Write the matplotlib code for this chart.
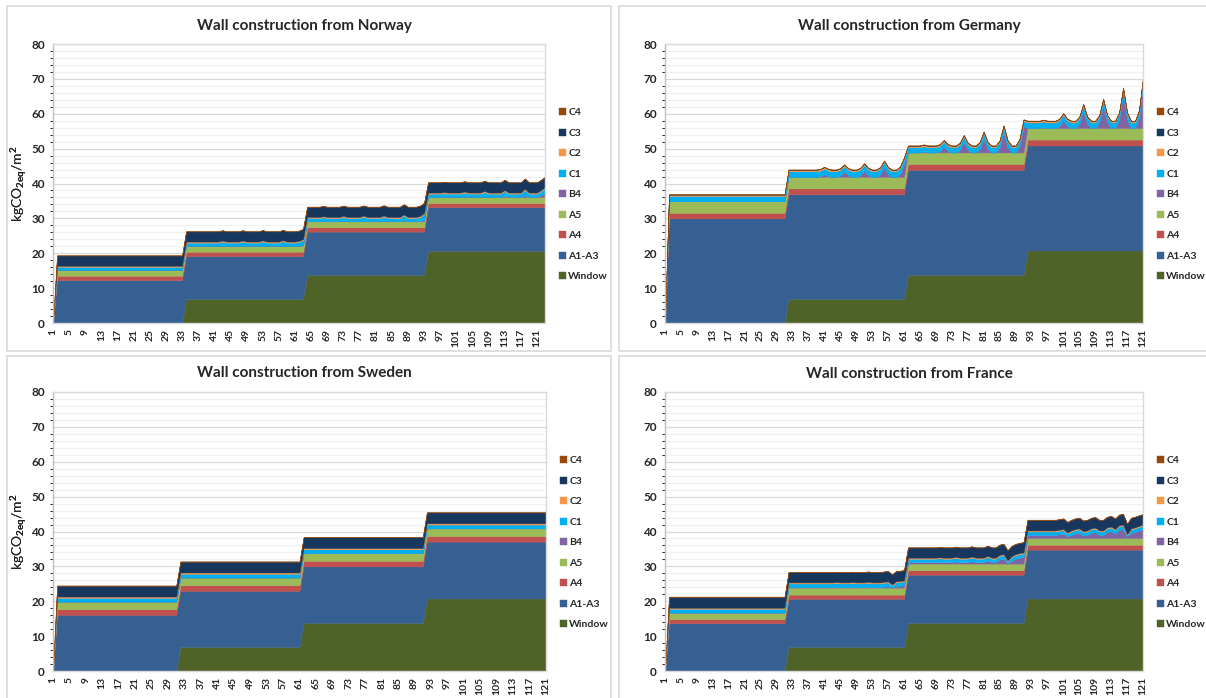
import numpy as np
import matplotlib.pyplot as plt
from matplotlib.patches import Rectangle
from matplotlib.ticker import MultipleLocator

plt.rcParams['font.family'] = ['Lato', 'DejaVu Sans']
plt.rcParams['font.weight'] = 'bold'
plt.rcParams['mathtext.fontset'] = 'custom'
plt.rcParams['mathtext.rm'] = 'Lato:bold'
plt.rcParams['mathtext.bf'] = 'Lato:bold'
plt.rcParams['mathtext.default'] = 'rm'

stages = ['Window', 'A1-A3', 'A4', 'A5', 'B4', 'C1', 'C2', 'C3', 'C4']
colors = ['#4F6228', '#376092', '#C0504D', '#9BBB59', '#8064A2',
          '#00B0F0', '#F79646', '#17375E', '#984807']

# --- Norway (123 years, first service life 32 years, then 30) ---
no_years = 123
no_starts = [2, 34, 64, 94]
no_window = [0, 6.9, 13.8, 20.7]
no_a1a3 = [12.3, 12.3, 12.4, 12.5]
no_a4 = [1.25, 1.25, 1.25, 1.2]
no_a5 = [1.7, 1.7, 1.7, 1.7]
no_b4 = [0, 0, 0.05, 0.1]
no_c1 = [0.85, 0.9, 0.9, 0.9]
no_c2 = [0.3, 0.3, 0.3, 0.3]
no_c3 = [2.95, 2.9, 2.9, 2.9]
no_c4 = [0.1, 0.1, 0.1, 0.1]
no_b4_extra = {63: 0.2, 88: 0.2, 93: 0.3, 113: 0.2, 118: 0.4, 122: 0.5, 123: 1.0}
no_c1_extra = {43: 0.3, 48: 0.3, 53: 0.35, 58: 0.4, 62: 0.2, 63: 0.5,
               68: 0.2, 73: 0.3, 78: 0.35, 83: 0.4, 88: 0.5, 92: 0.3, 93: 0.8,
               98: 0.1, 103: 0.3, 108: 0.45, 113: 0.5, 118: 0.7, 122: 0.2, 123: 0.6}

# --- Germany ---
de_years = 121
de_starts = [2, 32, 62, 92]
de_window = [0, 6.9, 13.8, 20.8]
de_a1a3 = [30.0, 30.0, 30.1, 30.1]
de_a4 = [1.6, 1.7, 1.7, 1.7]
de_a5 = [3.3, 3.3, 3.3, 3.3]
de_b4 = [0, 0, 0, 0]
de_c1 = [1.5, 1.6, 1.5, 1.6]
de_c2 = [0.4, 0.4, 0.4, 0.4]
de_c3 = [0.05, 0.05, 0.05, 0.05]
de_c4 = [0.1, 0.1, 0.1, 0.1]
de_b4_extra = {40: 0.2, 41: 0.8, 42: 0.2,
               45: 0.4, 46: 1.5, 47: 0.4,
               50: 0.5, 51: 1.8, 52: 0.5,
               55: 0.7, 56: 2.6, 57: 0.7,
               60: 0.9, 61: 3.5,
               66: 0.3,
               70: 0.4, 71: 1.6, 72: 0.4,
               75: 0.8, 76: 3.0, 77: 0.8,
               80: 1.0, 81: 4.0, 82: 1.0,
               85: 1.5, 86: 5.8, 87: 1.5,
               90: 1.9, 91: 7.5,
               96: 0.3,
               100: 0.6, 101: 2.2, 102: 0.6,
               105: 1.2, 106: 4.8, 107: 1.2,
               110: 1.6, 111: 6.3, 112: 1.6,
               115: 2.4, 116: 9.5, 117: 2.4,
               120: 3.1, 121: 12.5}
de_c1_extra = {}

# --- Sweden ---
se_years = 121
se_starts = [2, 32, 62, 92]
se_window = [0, 6.9, 13.8, 20.8]
se_a1a3 = [16.1, 16.1, 16.2, 16.3]
se_a4 = [1.6, 1.6, 1.6, 1.6]
se_a5 = [2.2, 2.2, 2.2, 2.2]
se_b4 = [0, 0, 0, 0]
se_c1 = [1.1, 1.1, 1.1, 1.1]
se_c2 = [0.35, 0.35, 0.35, 0.35]
se_c3 = [3.1, 3.1, 3.1, 3.1]
se_c4 = [0.1, 0.1, 0.1, 0.1]
se_b4_extra = {}
se_c1_extra = {}

# --- France ---
fr_years = 121
fr_starts = [2, 32, 62, 92]
fr_window = [0, 6.9, 13.8, 20.8]
fr_a1a3 = [13.7, 13.8, 13.8, 14.0]
fr_a4 = [1.15, 1.2, 1.3, 1.4]
fr_a5 = [1.9, 2.0, 1.9, 1.9]
fr_b4 = [0, 0.1, 0.4, 0.9]
fr_c1 = [1.1, 1.1, 1.0, 1.0]
fr_c2 = [0.3, 0.3, 0.3, 0.3]
fr_c3 = [3.1, 2.9, 2.9, 3.0]
fr_c4 = [0.1, 0.1, 0.1, 0.1]
fr_b4_extra = {44: 0.1, 48: 0.1, 52: 0.2, 56: 0.2, 57: 0.3, 58: -0.1, 59: 0.3, 60: 0.4, 61: 0.6,
               70: 0.1, 74: 0.2, 78: 0.3, 82: 0.5, 85: 0.8, 86: 1.0, 87: -0.3, 88: 0.4,
               89: 1.0, 90: 1.3, 91: 1.5,
               100: 0.2, 101: 0.4, 102: -0.4, 104: 0.4, 105: 0.6, 106: -0.2, 108: 0.6,
               109: 0.8, 110: 0.0, 112: 0.9, 113: 1.1, 114: 0.4, 115: 1.5, 116: 1.7,
               117: -0.5, 118: 0.6, 119: 0.9, 120: 1.3, 121: 1.7}
fr_c1_extra = {58: -0.5, 87: -0.5, 102: -0.2, 117: -0.6}


def build(starts, n, levels, extra=None):
    vals = np.zeros(n)
    bounds = starts + [n + 1]
    for lvl, a, b in zip(levels, bounds[:-1], bounds[1:]):
        vals[a - 1:b - 1] = lvl
    for yr, v in (extra or {}).items():
        vals[yr - 1] += v
    return vals


def panel(n, starts, window, a1a3, a4, a5, b4, c1, c2, c3, c4, b4_extra, c1_extra):
    return [build(starts, n, window), build(starts, n, a1a3), build(starts, n, a4),
            build(starts, n, a5), build(starts, n, b4, b4_extra),
            build(starts, n, c1, c1_extra), build(starts, n, c2),
            build(starts, n, c3), build(starts, n, c4)]


panels = [
    ('Norway', no_years, panel(no_years, no_starts, no_window, no_a1a3, no_a4, no_a5, no_b4,
                               no_c1, no_c2, no_c3, no_c4, no_b4_extra, no_c1_extra)),
    ('Germany', de_years, panel(de_years, de_starts, de_window, de_a1a3, de_a4, de_a5, de_b4,
                                de_c1, de_c2, de_c3, de_c4, de_b4_extra, de_c1_extra)),
    ('Sweden', se_years, panel(se_years, se_starts, se_window, se_a1a3, se_a4, se_a5, se_b4,
                               se_c1, se_c2, se_c3, se_c4, se_b4_extra, se_c1_extra)),
    ('France', fr_years, panel(fr_years, fr_starts, fr_window, fr_a1a3, fr_a4, fr_a5, fr_b4,
                               fr_c1, fr_c2, fr_c3, fr_c4, fr_b4_extra, fr_c1_extra)),
]

W, H = 1206, 698
fig = plt.figure(figsize=(W / 100, H / 100), dpi=100)

# chart frames and plot areas in pixels (left, top, right, bottom)
frames = [(7, 6, 611, 351), (619, 6, 1210, 351), (7, 356, 611, 702), (619, 356, 1210, 702)]
plots = [(53, 44, 545, 323), (665, 44, 1143, 323), (53, 392, 546, 671), (665, 392, 1143, 671)]
titles_y = [26, 26, 373, 374]

for (l, t, r, b) in frames:
    fig.patches.append(Rectangle((l / W, 1 - b / H), (r - l) / W, (b - t) / H,
                                 transform=fig.transFigure, fill=False,
                                 edgecolor='#D9D9D9', lw=1.2))

for (name, n, series), (l, t, r, b), ty in zip(panels, plots, titles_y):
    ax = fig.add_axes([l / W, 1 - b / H, (r - l) / W, (b - t) / H])
    x = np.arange(1, n + 1)
    polys = ax.stackplot(x, *series, colors=colors, labels=stages)
    for p, c in zip(polys, colors):
        p.set_edgecolor(c)
        p.set_linewidth(0.3)
    ax.set_xlim(1, n)
    ax.set_ylim(0, 80)
    ax.yaxis.set_major_locator(MultipleLocator(10))
    ax.yaxis.set_minor_locator(MultipleLocator(2))
    ax.grid(which='major', axis='y', color='#D9D9D9', lw=0.9)
    ax.grid(which='minor', axis='y', color='#F0F0F0', lw=0.9)
    ax.set_axisbelow(True)
    ax.set_xticks(np.arange(1, 122, 4))
    ax.set_xticklabels([str(v) for v in range(1, 122, 4)], rotation=90, fontsize=7.5)
    ax.tick_params(axis='both', length=0, colors='#262626')
    ax.tick_params(axis='y', labelsize=8.5, pad=6)
    ax.tick_params(axis='x', pad=4)
    for s in ax.spines.values():
        s.set_color('#D9D9D9')
        s.set_linewidth(1)
    ax.spines['left'].set_color('#BFBFBF')
    ax.set_ylabel(r'kgCO$_{2eq}$/m$^{2}$', fontsize=10, color='#262626')
    ax.yaxis.set_label_coords(-(l - 30) / (r - l), 0.5)
    fig.text(((l + r) / 2 + 5) / W, 1 - ty / H, 'Wall construction from ' + name,
             ha='center', va='center', fontsize=11, color='#262626')
    h, lb = ax.get_legend_handles_labels()
    leg = ax.legend(h[::-1], lb[::-1], loc='center left', frameon=False,
                    bbox_to_anchor=(1 + 14 / (r - l), 0.46), fontsize=7.5,
                    handlelength=0.65, handleheight=0.65, handletextpad=0.25,
                    labelspacing=1.09, borderaxespad=0, borderpad=0)
    for txt in leg.get_texts():
        txt.set_color('#262626')

fig.savefig('out.png', dpi=100)
